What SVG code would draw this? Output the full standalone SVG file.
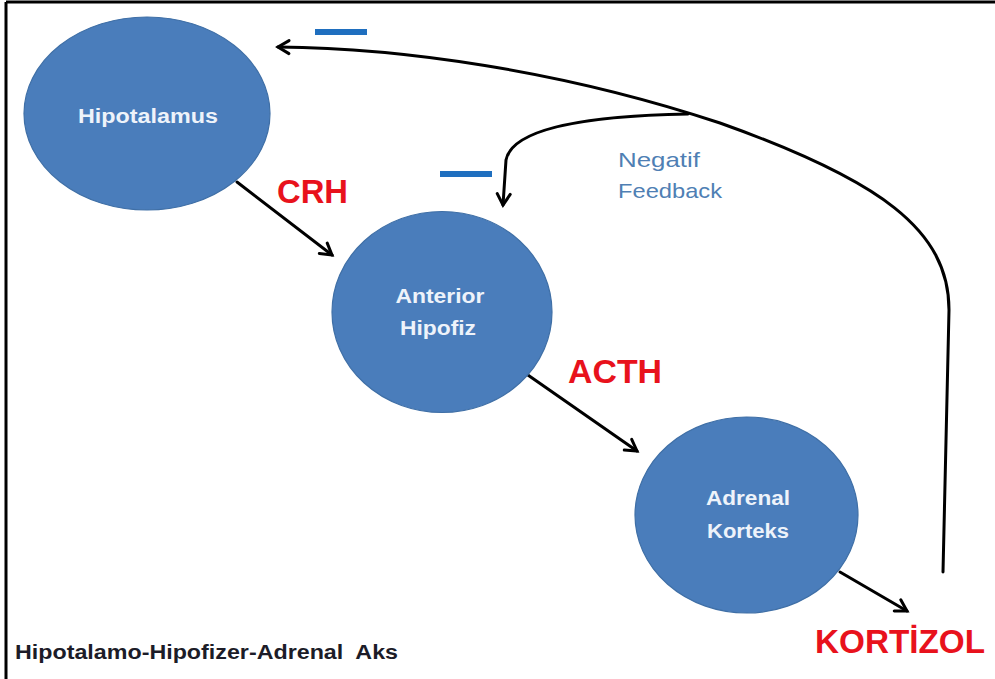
<svg xmlns="http://www.w3.org/2000/svg" width="995" height="679" viewBox="0 0 995 679">
<defs>
<style>
.node{fill:#4a7dbb;stroke:#3f6fa6;stroke-width:1.2}
.nt{font-family:"Liberation Sans",Arial,sans-serif;font-weight:bold;font-size:20px;fill:#eef3fa;text-anchor:middle}
.hl{font-family:"Liberation Sans",Arial,sans-serif;font-weight:bold;font-size:34px;fill:#e8121c}
.fb{font-family:"Liberation Sans",Arial,sans-serif;font-size:21px;fill:#4f7fb4}
.conn{fill:none;stroke:#000;stroke-width:3;stroke-linecap:round}
.minus{fill:#1f6fbf}
</style>
<marker id="ah" viewBox="0 0 16 16" refX="13" refY="8" markerWidth="16" markerHeight="16" markerUnits="userSpaceOnUse" orient="auto" overflow="visible">
<path d="M2,1.5 L13,8 L2,14.5" fill="none" stroke="#000" stroke-width="3" stroke-linecap="round" stroke-linejoin="miter"/>
</marker>
</defs>
<rect width="995" height="679" fill="#fff"/>
<path d="M6,2 L995,2 M6,2 L6,679" fill="none" stroke="#000" stroke-width="3"/>

<g id="connectors">
<path class="conn" d="M237,182 L332,255" marker-end="url(#ah)"/>
<path class="conn" d="M525,373 L637,451" marker-end="url(#ah)"/>
<path class="conn" d="M840,572 L907,611" marker-end="url(#ah)"/>
<path class="conn" d="M943,572 L949,310 C949,230 880,180 720,123 C560,70 400,48 278,47" marker-end="url(#ah)"/>
<path class="conn" d="M688,114 C580,116 512,130 506,160 L503,205" marker-end="url(#ah)"/>
</g>

<g id="hipotalamus">
<ellipse class="node" cx="147" cy="113.5" rx="123" ry="96.5"/>
<text class="nt" x="148" y="123" textLength="140" lengthAdjust="spacingAndGlyphs">Hipotalamus</text>
</g>
<g id="anterior-hipofiz">
<ellipse class="node" cx="442" cy="312" rx="110" ry="100.5"/>
<text class="nt" x="440" y="303" textLength="89" lengthAdjust="spacingAndGlyphs">Anterior</text>
<text class="nt" x="438" y="335" textLength="76" lengthAdjust="spacingAndGlyphs">Hipofiz</text>
</g>
<g id="adrenal-korteks">
<ellipse class="node" cx="746.5" cy="515" rx="111.5" ry="98"/>
<text class="nt" x="748" y="505" textLength="84" lengthAdjust="spacingAndGlyphs">Adrenal</text>
<text class="nt" x="748" y="538" textLength="82" lengthAdjust="spacingAndGlyphs">Korteks</text>
</g>

<g id="labels">
<text class="hl" x="277" y="203" textLength="71" lengthAdjust="spacingAndGlyphs">CRH</text>
<text class="hl" x="568" y="383" textLength="94" lengthAdjust="spacingAndGlyphs">ACTH</text>
<text class="hl" x="815" y="653" textLength="170" lengthAdjust="spacingAndGlyphs">KORTİZOL</text>
<text class="fb" x="618" y="167" textLength="82" lengthAdjust="spacingAndGlyphs">Negatif</text>
<text class="fb" x="618" y="198" textLength="104" lengthAdjust="spacingAndGlyphs">Feedback</text>
<rect class="minus" x="315" y="29" width="52" height="6"/>
<rect class="minus" x="440" y="171" width="52" height="6"/>
<text x="15" y="659" xml:space="preserve" textLength="383" lengthAdjust="spacingAndGlyphs" font-family="Liberation Sans, Arial, sans-serif" font-weight="bold" font-size="20" fill="#1c1c28">Hipotalamo-Hipofizer-Adrenal  Aks</text>
</g>
</svg>
